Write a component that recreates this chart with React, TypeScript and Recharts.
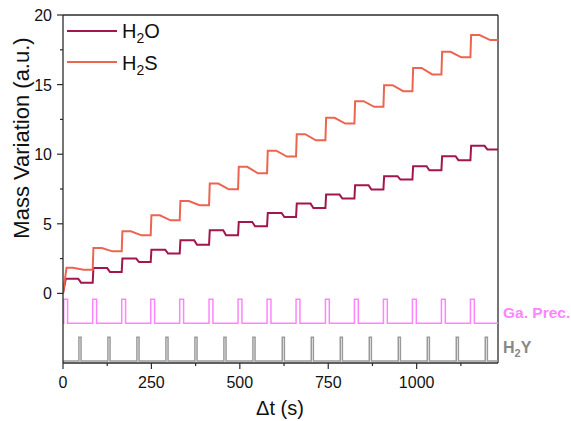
import React from 'react';
import { ComposedChart, Line, XAxis, YAxis, ReferenceLine } from 'recharts';

// cycle start times (s) = Ga precursor pulse start, H2Y pulse start
const pulseStart = [2, 84, 166, 248, 330, 413, 495, 577, 659, 742, 824, 906, 988, 1070, 1152];
const h2yStart = [45, 127, 209, 291, 373, 455, 537, 620, 702, 784, 866, 948, 1030, 1112, 1194];

// level reached right after each pulse, and level just before the next one
const h2sPeak = [1.85, 3.26, 4.46, 5.61, 6.64, 7.89, 9.09, 10.25, 11.44, 12.61, 13.81, 14.96, 16.2, 17.36, 18.56];
const h2sEnd = [1.7, 3.02, 4.17, 5.25, 6.33, 7.48, 8.63, 9.83, 11.0, 12.2, 13.4, 14.53, 15.73, 16.96, 18.2];
const h2oPeak = [1.06, 1.82, 2.5, 3.14, 3.81, 4.53, 5.13, 5.78, 6.45, 7.1, 7.77, 8.42, 9.14, 9.86, 10.6];
const h2oEnd = [0.77, 1.53, 2.25, 2.86, 3.5, 4.17, 4.82, 5.49, 6.14, 6.81, 7.46, 8.18, 8.85, 9.57, 10.34];

const T_MAX = 1230;
const xTicks = [0, 125, 250, 375, 500, 625, 750, 875, 1000, 1125];
const yTicks = [0, 2.5, 5, 7.5, 10, 12.5, 15, 17.5, 20];

const gaLow = -2.15, gaHigh = -0.42, gaWidth = 11;
const h2yLow = -4.85, h2yHigh = -3.15, h2yWidth = 6;

const C_H2O = '#a3164d';
const C_H2S = '#eb6551';
const C_GA = '#ff85ff';
const C_H2Y = '#9a9a9a';
const FONT = '"Liberation Sans", Arial, sans-serif';

const h2sData: { t: number; v: number }[] = [{ t: 0, v: 0 }];
pulseStart.forEach((t, i) => {
  const next = i + 1 < pulseStart.length ? pulseStart[i + 1] : T_MAX;
  if (i > 0) h2sData.push({ t, v: h2sEnd[i - 1] });
  h2sData.push({ t: t + (i === 0 ? 8 : 2), v: h2sPeak[i] });
  h2sData.push({ t: t + 26, v: h2sPeak[i] });
  h2sData.push({ t: t + 56, v: h2sEnd[i] });
  h2sData.push({ t: next, v: h2sEnd[i] });
});

const h2oData: { t: number; v: number }[] = [{ t: 0, v: 0 }];
pulseStart.forEach((t, i) => {
  const next = i + 1 < pulseStart.length ? pulseStart[i + 1] : T_MAX;
  if (i > 0) h2oData.push({ t, v: h2oEnd[i - 1] });
  h2oData.push({ t: t + (i === 0 ? 6 : 2), v: h2oPeak[i] });
  h2oData.push({ t: h2yStart[i] - 2, v: h2oPeak[i] });
  h2oData.push({ t: h2yStart[i] + 6, v: h2oEnd[i] });
  h2oData.push({ t: next, v: h2oEnd[i] });
});

function pulses(starts: number[], width: number, low: number, high: number) {
  const d: { t: number; v: number }[] = [{ t: 0, v: low }];
  starts.forEach((t) => {
    d.push({ t, v: low }, { t, v: high }, { t: t + width, v: high }, { t: t + width, v: low });
  });
  d.push({ t: T_MAX, v: low });
  return d;
}
const gaData = pulses(pulseStart, gaWidth, gaLow, gaHigh);
const h2yData = pulses(h2yStart, h2yWidth, h2yLow, h2yHigh);

const AXIS = '#2b2b2b';

const XTick = (p: any) => {
  const v = p.payload.value;
  const major = v % 250 === 0;
  const y0 = p.y - 10;
  return (
    <g>
      <line x1={p.x} x2={p.x} y1={y0} y2={y0 + (major ? 6 : 3)} stroke={AXIS} strokeWidth={1.2} />
      {major && (
        <text x={p.x} y={y0 + 25} textAnchor="middle" fontSize={16} fontFamily={FONT} fill="#111">
          {v}
        </text>
      )}
    </g>
  );
};

const YTick = (p: any) => {
  const v = p.payload.value;
  const major = v % 5 === 0;
  const x0 = p.x + 10;
  return (
    <g>
      <line x1={x0} x2={x0 - (major ? 6 : 3)} y1={p.y} y2={p.y} stroke={AXIS} strokeWidth={1.2} />
      {major && (
        <text x={x0 - 11} y={p.y + 6} textAnchor="end" fontSize={16} fontFamily={FONT} fill="#111">
          {v}
        </text>
      )}
    </g>
  );
};

const abs = (s: React.CSSProperties): React.CSSProperties => ({ position: 'absolute', fontFamily: FONT, whiteSpace: 'nowrap', lineHeight: 1, ...s });

export default function App() {
  return (
    <div style={{ position: 'absolute', left: 0, top: 0, width: 571, height: 421, background: '#fff' }}>
      <ComposedChart width={571} height={421} margin={{ top: 15, right: 73, bottom: 0, left: 0 }}>
        <XAxis
          dataKey="t"
          type="number"
          domain={[0, T_MAX]}
          ticks={xTicks}
          interval={0}
          height={58}
          tickSize={6}
          tickMargin={4}
          tickLine={false}
          tick={<XTick />}
          axisLine={{ stroke: AXIS, strokeWidth: 1.3 }}
          allowDataOverflow
        />
        <YAxis
          dataKey="v"
          type="number"
          domain={[-5, 20]}
          ticks={yTicks}
          interval={0}
          width={63}
          tickSize={6}
          tickMargin={4}
          tickLine={false}
          tick={<YTick />}
          axisLine={{ stroke: AXIS, strokeWidth: 1.3 }}
          allowDataOverflow
        />
        <ReferenceLine y={20} stroke={AXIS} strokeWidth={1.3} />
        <ReferenceLine x={T_MAX} stroke={AXIS} strokeWidth={1.3} />
        <Line data={gaData} dataKey="v" type="linear" stroke={C_GA} strokeWidth={1.5} dot={false} isAnimationActive={false} />
        <Line data={h2yData} dataKey="v" type="linear" stroke={C_H2Y} strokeWidth={1.5} dot={false} isAnimationActive={false} />
        <Line data={h2oData} dataKey="v" type="linear" stroke={C_H2O} strokeWidth={2} dot={false} isAnimationActive={false} />
        <Line data={h2sData} dataKey="v" type="linear" stroke={C_H2S} strokeWidth={2} dot={false} isAnimationActive={false} />
      </ComposedChart>

      {/* legend */}
      <div style={abs({ left: 67, top: 30, width: 50, height: 2, background: C_H2O })} />
      <div style={abs({ left: 122, top: 21, fontSize: 20, color: '#111' })}>
        H<sub style={{ fontSize: 14 }}>2</sub>O
      </div>
      <div style={abs({ left: 67, top: 61, width: 50, height: 2, background: C_H2S })} />
      <div style={abs({ left: 122, top: 53, fontSize: 20, color: '#111' })}>
        H<sub style={{ fontSize: 14 }}>2</sub>S
      </div>

      {/* side labels */}
      <div style={abs({ left: 503, top: 305, fontSize: 15.5, fontWeight: 'bold', color: C_GA })}>Ga. Prec.</div>
      <div style={abs({ left: 503, top: 340, fontSize: 16, fontWeight: 'bold', color: '#888' })}>
        H<sub style={{ fontSize: 11 }}>2</sub>Y
      </div>

      {/* axis titles */}
      <div
        style={abs({
          left: 22,
          top: 138,
          fontSize: 22,
          color: '#111',
          transform: 'translate(-50%, -50%) rotate(-90deg)',
        })}
      >
        Mass Variation (a.u.)
      </div>
      <div style={abs({ left: 280, top: 408, fontSize: 20, color: '#111', transform: 'translate(-50%, -50%)' })}>
        Δt (s)
      </div>
    </div>
  );
}
